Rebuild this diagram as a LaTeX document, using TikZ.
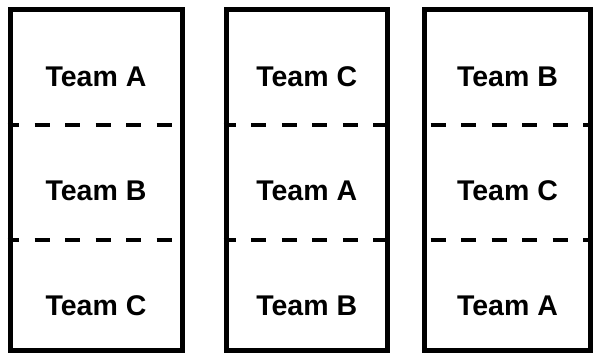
\documentclass[tikz,border=0pt]{standalone}
\usepackage{fontspec}
\setmainfont{Liberation Sans}
\usepackage{tikz}
\usetikzlibrary{positioning}

\begin{document}
\begin{tikzpicture}[
      x=1pt, y=1pt,
      column/.style={draw, line width=5pt, inner sep=0pt,
        minimum height=341.3pt},
      team/.style={font=\fontsize{28.5}{34}\selectfont\bfseries,
        inner sep=0pt},
      sep/.style={line width=4pt, dash pattern=on 15pt off 15.5pt}
    ]
    \useasboundingbox (0,0) rectangle (595,356);
    % the three columns
    \node[column, minimum width=172pt]   (col1) at (96,175.65)    {};
    \node[column, minimum width=161.5pt] (col2) at (306.75,175.65) {};
    \node[column, minimum width=166pt]   (col3) at (507.5,175.65) {};
    % separators
    \draw[sep, dash phase=3.3pt] (col1.west |- 0,231.3) -- (col1.east |- 0,231.3);
    \draw[sep, dash phase=3.3pt] (col1.west |- 0,116.3) -- (col1.east |- 0,116.3);
    \draw[sep, dash phase=2.7pt] (col2.west |- 0,231.3) -- (col2.east |- 0,231.3);
    \draw[sep, dash phase=2.7pt] (col2.west |- 0,116.3) -- (col2.east |- 0,116.3);
    \draw[sep, dash phase=22pt]  (col3.west |- 0,231.3) -- (col3.east |- 0,231.3);
    \draw[sep, dash phase=22pt]  (col3.west |- 0,116.3) -- (col3.east |- 0,116.3);
    % teams
    \node[team] (a1) at (col1 |- 0,279)   {Team A};
    \node[team] (b1) at (col1 |- 0,165.5) {Team B};
    \node[team] (c1) at (col1 |- 0,50.5)  {Team C};
    \node[team] (c2) at (col2 |- 0,279)   {Team C};
    \node[team] (a2) at (col2 |- 0,165.5) {Team A};
    \node[team] (b2) at (col2 |- 0,50.5)  {Team B};
    \node[team] (b3) at (col3 |- 0,279)   {Team B};
    \node[team] (c3) at (col3 |- 0,165.5) {Team C};
    \node[team] (a3) at (col3 |- 0,50.5)  {Team A};
  \end{tikzpicture}
\end{document}
